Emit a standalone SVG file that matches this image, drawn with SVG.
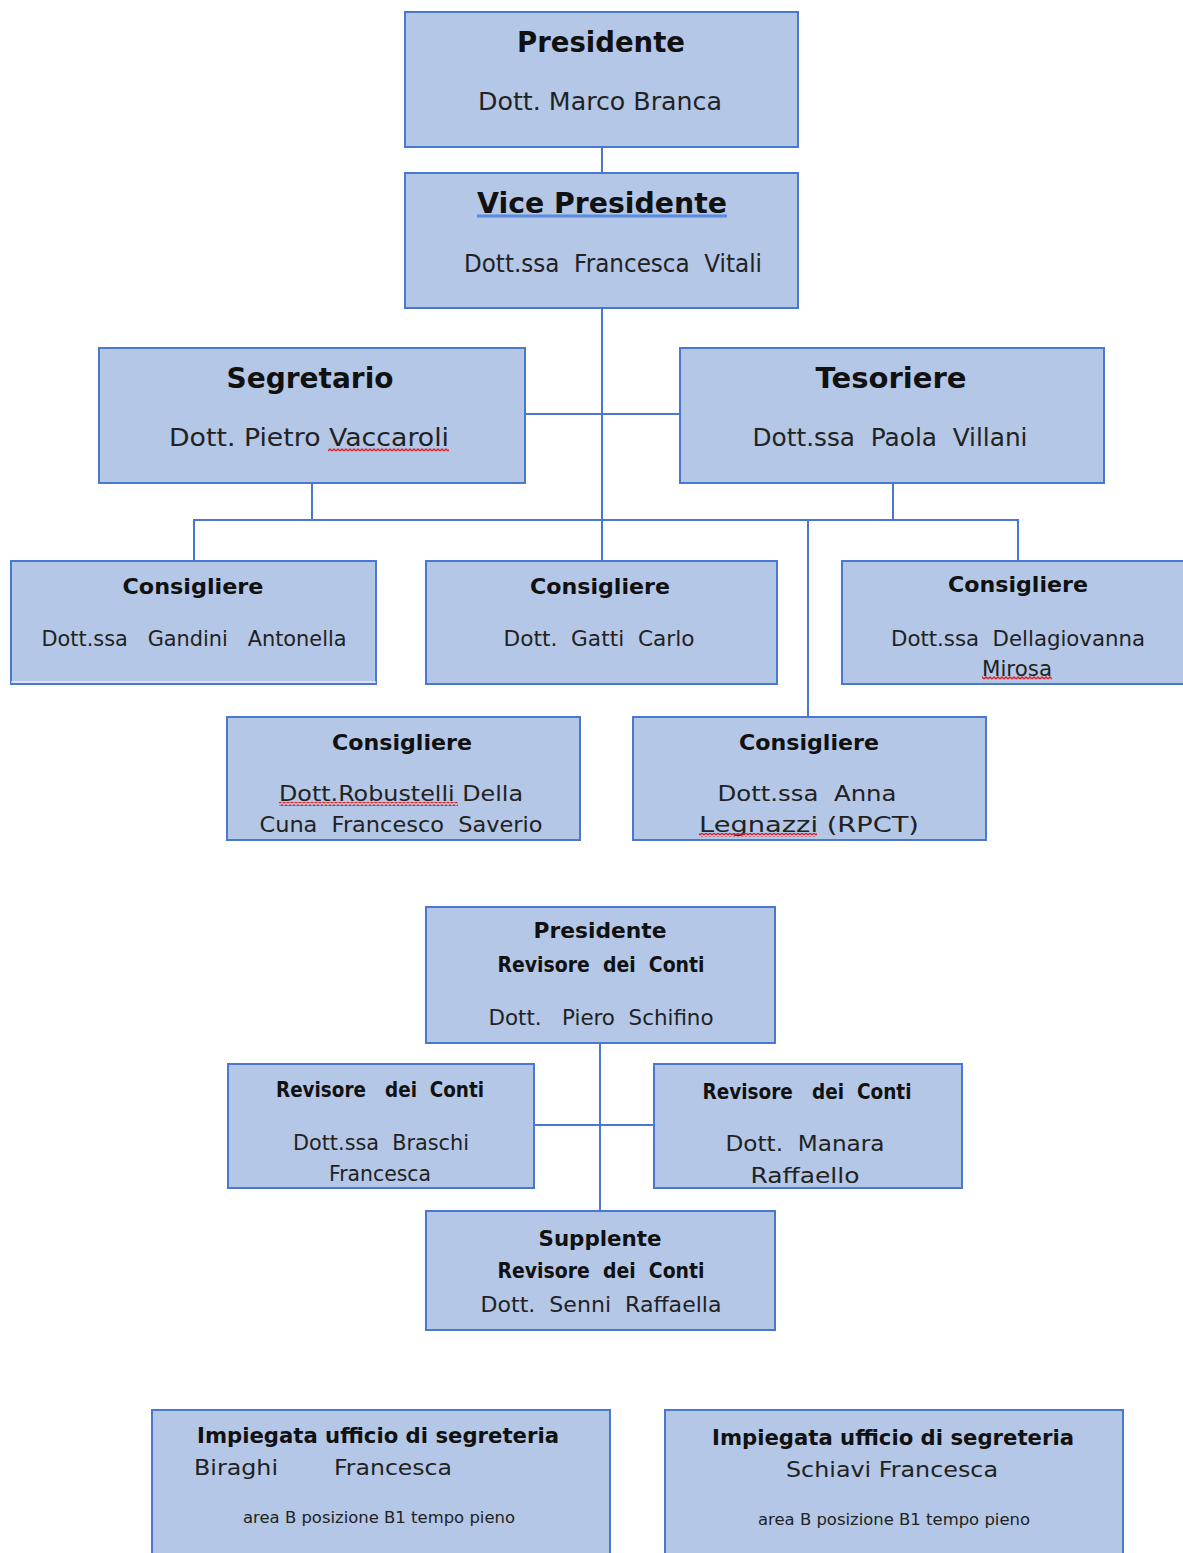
<svg xmlns="http://www.w3.org/2000/svg" width="1183" height="1553" viewBox="0 0 1183 1553">
<style>
.box{fill:#b4c7e7;stroke:#4a78d0;stroke-width:2}
.ln{stroke:#4a78d0;stroke-width:2;fill:none}
text{font-family:"DejaVu Sans","Liberation Sans",sans-serif;fill:#111;text-anchor:middle;white-space:pre}
.t{font-weight:bold;font-size:28px}
.n{font-size:24px;fill:#222}
.ct{font-weight:bold;font-size:21px}
.cn{font-size:21px;fill:#222}
.s{font-size:15px;fill:#222}
</style>
<defs>
<pattern id="wave" width="4" height="4" patternUnits="userSpaceOnUse">
<path d="M0 3 L2 1 L4 3" stroke="#e02020" stroke-width="1.4" fill="none"/>
</pattern>
</defs>
<rect width="1183" height="1553" fill="#ffffff"/>
<g id="connectors">
<line class="ln" x1="602" y1="147" x2="602" y2="173"/>
<line class="ln" x1="602" y1="308" x2="602" y2="561"/>
<line class="ln" x1="525" y1="414" x2="680" y2="414"/>
<line class="ln" x1="312" y1="483" x2="312" y2="520"/>
<line class="ln" x1="893" y1="483" x2="893" y2="520"/>
<polyline class="ln" points="194,561 194,520 1018,520 1018,561"/>
<line class="ln" x1="808" y1="520" x2="808" y2="717"/>
<line class="ln" x1="600" y1="1043" x2="600" y2="1211"/>
<line class="ln" x1="534" y1="1125" x2="654" y2="1125"/>
</g>
<g id="presidente">
<rect class="box" x="405" y="12" width="393" height="135"/>
<text class="t" x="601" y="52" textLength="168" lengthAdjust="spacingAndGlyphs">Presidente</text>
<text class="n" x="600" y="110" textLength="244" lengthAdjust="spacingAndGlyphs">Dott. Marco Branca</text>
</g>
<g id="vicepresidente">
<rect class="box" x="405" y="173" width="393" height="135"/>
<text class="t" x="602" y="213" textLength="250" lengthAdjust="spacingAndGlyphs">Vice Presidente</text>
<line x1="477" y1="216" x2="727" y2="216" stroke="#5b8be0" stroke-width="3"/>
<text class="n" x="613" y="272" textLength="298" lengthAdjust="spacingAndGlyphs">Dott.ssa  Francesca  Vitali</text>
</g>
<g id="segretario">
<rect class="box" x="99" y="348" width="426" height="135"/>
<text class="t" x="310" y="388" textLength="167" lengthAdjust="spacingAndGlyphs">Segretario</text>
<text class="n" x="309" y="446" textLength="280" lengthAdjust="spacingAndGlyphs">Dott. Pietro Vaccaroli</text>
<rect x="328" y="448" width="121" height="4" fill="url(#wave)"/>
</g>
<g id="tesoriere">
<rect class="box" x="680" y="348" width="424" height="135"/>
<text class="t" x="891" y="388" textLength="151" lengthAdjust="spacingAndGlyphs">Tesoriere</text>
<text class="n" x="890" y="446" textLength="275" lengthAdjust="spacingAndGlyphs">Dott.ssa  Paola  Villani</text>
</g>
<g id="consigliere1">
<rect class="box" x="11" y="561" width="365" height="123"/>
<line x1="11" y1="682" x2="376" y2="682" stroke="#ffffff" stroke-width="1"/>
<text class="ct" x="193" y="594" textLength="141" lengthAdjust="spacingAndGlyphs">Consigliere</text>
<text class="cn" x="194" y="646" textLength="305" lengthAdjust="spacingAndGlyphs">Dott.ssa   Gandini   Antonella</text>
</g>
<g id="consigliere2">
<rect class="box" x="426" y="561" width="351" height="123"/>
<text class="ct" x="600" y="594" textLength="140" lengthAdjust="spacingAndGlyphs">Consigliere</text>
<text class="cn" x="599" y="646" textLength="191" lengthAdjust="spacingAndGlyphs">Dott.  Gatti  Carlo</text>
</g>
<g id="consigliere3">
<rect class="box" x="842" y="561" width="345" height="123"/>
<text class="ct" x="1018" y="592" textLength="140" lengthAdjust="spacingAndGlyphs">Consigliere</text>
<text class="cn" x="1018" y="646" textLength="254" lengthAdjust="spacingAndGlyphs">Dott.ssa  Dellagiovanna</text>
<text class="cn" x="1017" y="676" textLength="70" lengthAdjust="spacingAndGlyphs">Mirosa</text>
<rect x="982" y="676" width="70" height="4" fill="url(#wave)"/>
</g>
<g id="consigliere4">
<rect class="box" x="227" y="717" width="353" height="123"/>
<text class="ct" x="402" y="750" textLength="140" lengthAdjust="spacingAndGlyphs">Consigliere</text>
<text class="cn" x="401" y="801" textLength="244" lengthAdjust="spacingAndGlyphs">Dott.Robustelli Della</text>
<rect x="279" y="802" width="179" height="4" fill="url(#wave)"/>
<text class="cn" x="401" y="832" textLength="283" lengthAdjust="spacingAndGlyphs">Cuna  Francesco  Saverio</text>
</g>
<g id="consigliere5">
<rect class="box" x="633" y="717" width="353" height="123"/>
<text class="ct" x="809" y="750" textLength="140" lengthAdjust="spacingAndGlyphs">Consigliere</text>
<text class="cn" x="807" y="801" textLength="179" lengthAdjust="spacingAndGlyphs">Dott.ssa  Anna</text>
<text class="cn" x="809" y="832" textLength="220" lengthAdjust="spacingAndGlyphs">Legnazzi (RPCT)</text>
<rect x="699" y="833" width="118" height="4" fill="url(#wave)"/>
</g>
<g id="presidente-revisore">
<rect class="box" x="426" y="907" width="349" height="136"/>
<text class="ct" x="600" y="938" textLength="133" lengthAdjust="spacingAndGlyphs">Presidente</text>
<text class="ct" x="601" y="972" textLength="207" lengthAdjust="spacingAndGlyphs">Revisore  dei  Conti</text>
<text class="cn" x="601" y="1025" textLength="225" lengthAdjust="spacingAndGlyphs">Dott.   Piero  Schifino</text>
</g>
<g id="revisore-sx">
<rect class="box" x="228" y="1064" width="306" height="124"/>
<text class="ct" x="380" y="1097" textLength="208" lengthAdjust="spacingAndGlyphs">Revisore   dei  Conti</text>
<text class="cn" x="381" y="1150" textLength="176" lengthAdjust="spacingAndGlyphs">Dott.ssa  Braschi</text>
<text class="cn" x="380" y="1181" textLength="102" lengthAdjust="spacingAndGlyphs">Francesca</text>
</g>
<g id="revisore-dx">
<rect class="box" x="654" y="1064" width="308" height="124"/>
<text class="ct" x="807" y="1099" textLength="209" lengthAdjust="spacingAndGlyphs">Revisore   dei  Conti</text>
<text class="cn" x="805" y="1151" textLength="159" lengthAdjust="spacingAndGlyphs">Dott.  Manara</text>
<text class="cn" x="805" y="1183" textLength="109" lengthAdjust="spacingAndGlyphs">Raffaello</text>
</g>
<g id="supplente">
<rect class="box" x="426" y="1211" width="349" height="119"/>
<text class="ct" x="600" y="1246" textLength="123" lengthAdjust="spacingAndGlyphs">Supplente</text>
<text class="ct" x="601" y="1278" textLength="207" lengthAdjust="spacingAndGlyphs">Revisore  dei  Conti</text>
<text class="cn" x="601" y="1312" textLength="241" lengthAdjust="spacingAndGlyphs">Dott.  Senni  Raffaella</text>
</g>
<g id="impiegata1">
<rect class="box" x="152" y="1410" width="458" height="150"/>
<text class="ct" x="378" y="1443" textLength="362" lengthAdjust="spacingAndGlyphs">Impiegata ufficio di segreteria</text>
<text class="cn" x="236" y="1475" textLength="84" lengthAdjust="spacingAndGlyphs">Biraghi</text>
<text class="cn" x="393" y="1475" textLength="118" lengthAdjust="spacingAndGlyphs">Francesca</text>
<text class="s" x="379" y="1523" textLength="272" lengthAdjust="spacingAndGlyphs">area B posizione B1 tempo pieno</text>
</g>
<g id="impiegata2">
<rect class="box" x="665" y="1410" width="458" height="150"/>
<text class="ct" x="893" y="1445" textLength="362" lengthAdjust="spacingAndGlyphs">Impiegata ufficio di segreteria</text>
<text class="cn" x="892" y="1477" textLength="212" lengthAdjust="spacingAndGlyphs">Schiavi Francesca</text>
<text class="s" x="894" y="1525" textLength="272" lengthAdjust="spacingAndGlyphs">area B posizione B1 tempo pieno</text>
</g>
</svg>
